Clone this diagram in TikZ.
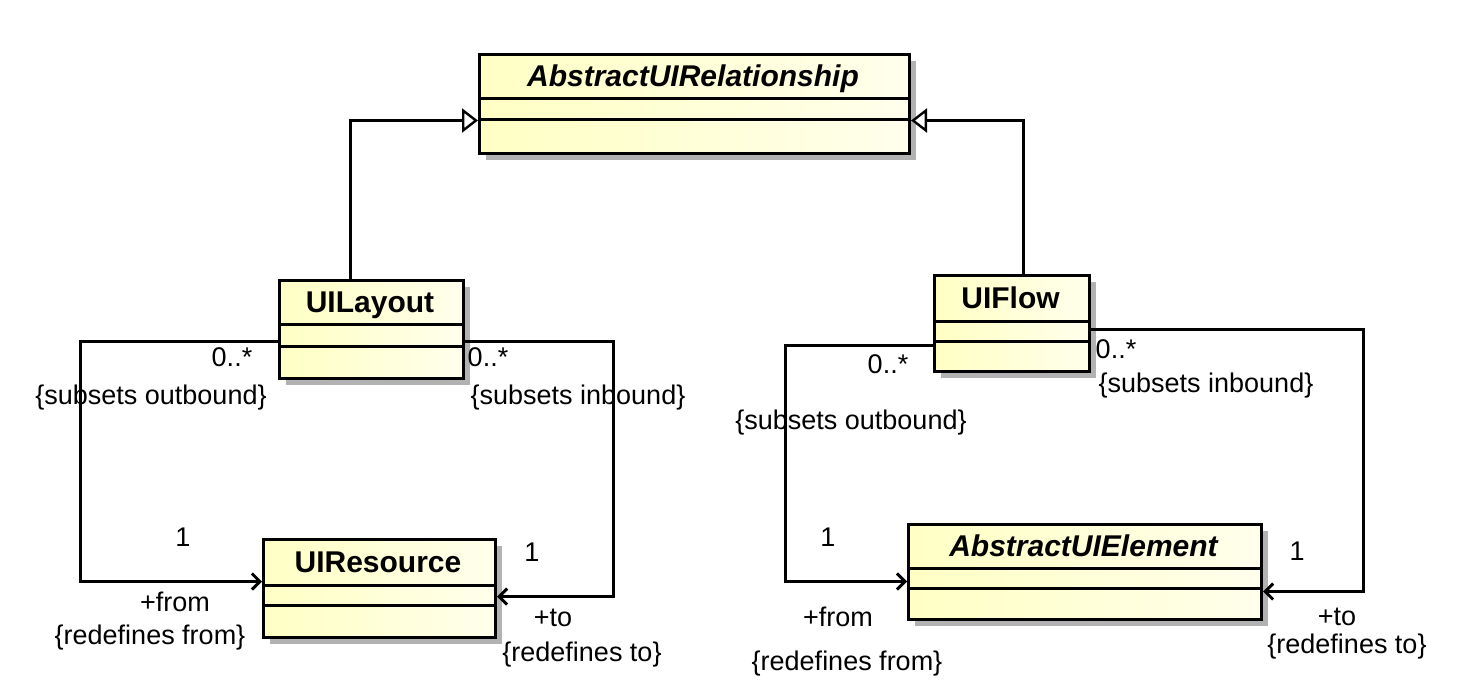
\documentclass[tikz,border=0pt]{standalone}
\usepackage{fontspec}
\setmainfont{Liberation Sans}
\usetikzlibrary{arrows.meta,shadows}
\definecolor{clsL}{RGB}{255,255,196}
\definecolor{clsR}{RGB}{255,255,236}
\definecolor{shd}{RGB}{178,178,178}
\tikzset{
  cls/.style={draw, line width=1.5pt, rectangle, inner sep=0pt, anchor=north west,
    left color=clsL, right color=clsR,
    drop shadow={shadow xshift=3pt, shadow yshift=-3pt, fill=shd, opacity=1}},
  divider/.style={line width=1.5pt},
  ctitle/.style={font=\fontsize{15}{18}\selectfont\bfseries, inner sep=0pt, anchor=base},
  lbl/.style={font=\fontsize{13.5}{16}\selectfont, inner sep=0pt},
  gen/.style={line width=1.5pt, -{Triangle[open, length=8pt, width=12pt, line width=1.2pt, fill=white]}},
  assoc/.style={line width=1.5pt, -{Straight Barb[length=4pt, width=8pt]}},
}
\newcommand\umlcls[8]{%
  \node[cls, minimum width={(#4-#2)*0.5pt}, minimum height={(#5-#3)*0.5pt}] (#1) at (#2,#3) {};
  \draw[divider] (#2,#6) -- (#4,#6) (#2,#7) -- (#4,#7);
  \node[ctitle] (#1-t) at ({(#2+#4)/2},{(#3+#6)/2+11}) {#8};
}
\begin{document}
\begin{tikzpicture}[x=0.5pt,y=-0.5pt]
\fill[white] (0,0) rectangle (1469,691);
\useasboundingbox (0,0) rectangle (1469,691);

\umlcls{aur}{478}{53}{908}{152}{98}{119}{\itshape AbstractUIRelationship}
\umlcls{uil}{278}{279}{462}{377}{324}{346}{UILayout}
\umlcls{uir}{262}{538}{494}{636}{585}{605}{UIResource}
\umlcls{uif}{933}{274}{1088}{370}{321}{341}{UIFlow}
\umlcls{aue}{907}{523}{1260}{618}{568}{588}{\itshape AbstractUIElement}

% generalizations
\draw[gen] ([xshift=-10.5pt]uil.north) |- ([yshift=-8.25pt]aur.west);
\draw[gen] ([xshift=5.75pt]uif.north) |- ([yshift=-8.25pt]aur.east);

% associations
\draw[assoc] ([yshift=-6pt]uil.west) -- ++(-99pt,0) |- ([yshift=3.5pt]uir.west);
\draw[assoc] ([yshift=-6pt]uil.east) -- ++(74pt,0) |- ([yshift=-4pt]uir.east);
\draw[assoc] ([yshift=-11pt]uif.west) -- ++(-74pt,0) |- ([yshift=-4.75pt]aue.west);
\draw[assoc] ([yshift=-3pt]uif.east) -- ++(136pt,0) |- ([yshift=-9.75pt]aue.east);

% labels left
\node[lbl] (l1) at (232,357) {0..*};
\node[lbl] (l2) at (151,398) {\{subsets outbound\}};
\node[lbl] (l3) at (488,357) {0..*};
\node[lbl] (l4) at (578,398) {\{subsets inbound\}};
\node[lbl] (l5) at (183,537) {1};
\node[lbl] (l6) at (175,602) {+from};
\node[lbl] (l7) at (150,638) {\{redefines from\}};
\node[lbl] (l8) at (532,552) {1};
\node[lbl] (l9) at (553,618) {+to};
\node[lbl] (l10) at (582,655) {\{redefines to\}};
% labels right
\node[lbl] (r1) at (888,364) {0..*};
\node[lbl] (r2) at (851,423) {\{subsets outbound\}};
\node[lbl] (r3) at (1116,349) {0..*};
\node[lbl] (r4) at (1206,386) {\{subsets inbound\}};
\node[lbl] (r5) at (828,537) {1};
\node[lbl] (r6) at (838,617) {+from};
\node[lbl] (r7) at (847,664) {\{redefines from\}};
\node[lbl] (r8) at (1297,551) {1};
\node[lbl] (r9) at (1337,617) {+to};
\node[lbl] (r10) at (1347,647) {\{redefines to\}};
\end{tikzpicture}
\end{document}
